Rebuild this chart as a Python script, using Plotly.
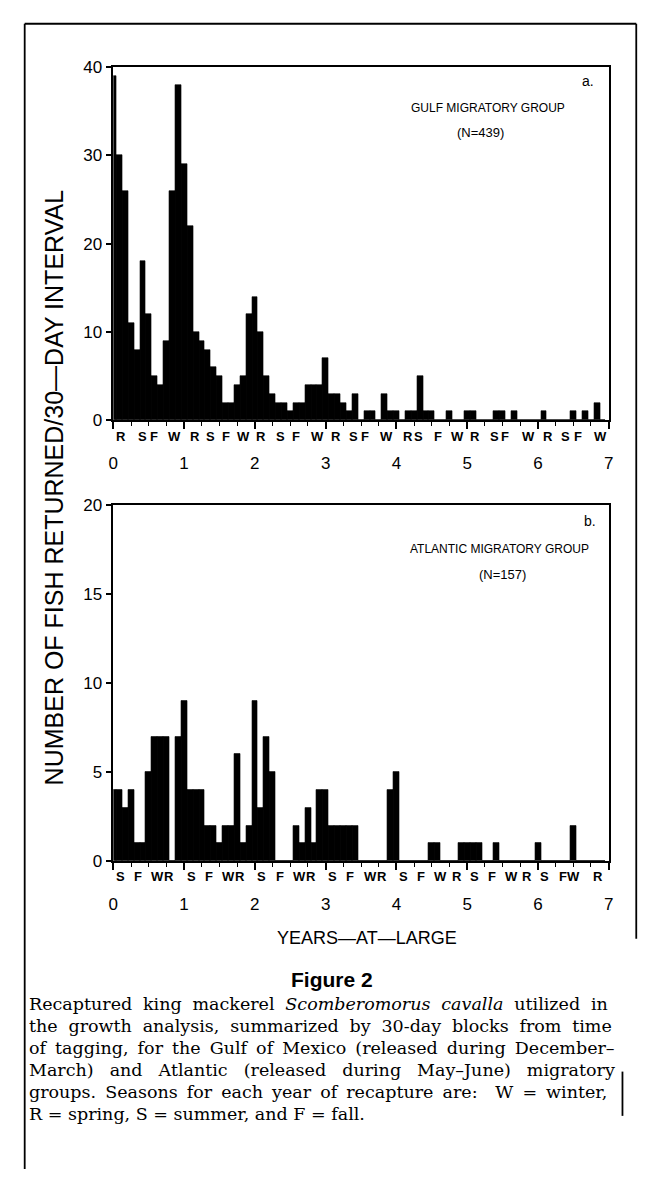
import plotly.graph_objects as go

# ---------------- data ----------------
BLOCK_YEARS = 1 / 12  # one 30-day block on the years axis

# Gulf migratory group (N=439): fish returned per 30-day block, block 0 at 0 years
gulf_counts = [39, 30, 26, 11, 8, 18, 12, 5, 4, 9,
               26, 38, 29, 22, 10, 9, 8, 6, 5, 2,
               2, 4, 5, 12, 14, 10, 5, 3, 2, 2,
               1, 2, 2, 4, 4, 4, 7, 3, 3, 2,
               1, 3, 0, 1, 1, 0, 3, 1, 1, 0,
               1, 1, 5, 1, 1, 0, 0, 1, 0, 0,
               1, 1, 0, 0, 0, 1, 1, 0, 1, 0,
               0, 0, 0, 1, 0, 0, 0, 0, 1, 0,
               1, 0, 2, 0]

# Atlantic migratory group (N=157)
atl_counts = [4, 4, 3, 4, 1, 1, 5, 7, 7, 7,
              0, 7, 9, 4, 4, 4, 2, 2, 1, 2,
              2, 6, 1, 2, 9, 3, 7, 5, 0, 0,
              0, 2, 1, 3, 1, 4, 4, 2, 2, 2,
              2, 2, 0, 0, 0, 0, 0, 4, 5, 0,
              0, 0, 0, 0, 1, 1, 0, 0, 0, 1,
              1, 1, 1, 0, 0, 1, 0, 0, 0, 0,
              0, 0, 1, 0, 0, 0, 0, 0, 2, 0,
              0, 0, 0, 0]

year_ticks = [0, 1, 2, 3, 4, 5, 6, 7]
gulf_yticks = [0, 10, 20, 30, 40]
atl_yticks = [0, 5, 10, 15, 20]

# season labels (W = winter, R = spring, S = summer, F = fall) and their positions in years
gulf_seasons = ["R", "S", "F", "W"] * 7
gulf_season_pos = [0.11, 0.41, 0.58, 0.86, 1.16, 1.37, 1.59, 1.84,
                   2.09, 2.36, 2.58, 2.88, 3.14, 3.40, 3.56, 3.86,
                   4.17, 4.31, 4.59, 4.86, 5.11, 5.39, 5.54, 5.86,
                   6.14, 6.39, 6.57, 6.89]
atl_seasons = ["S", "F", "W", "R"] * 7
atl_season_pos = [0.10, 0.35, 0.63, 0.78, 1.10, 1.35, 1.63, 1.79,
                  2.10, 2.35, 2.63, 2.80, 3.10, 3.35, 3.63, 3.80,
                  4.10, 4.35, 4.63, 4.85, 5.10, 5.35, 5.63, 5.85,
                  6.10, 6.35, 6.50, 6.85]

caption_lines = [
    "Recaptured king mackerel <i>Scomberomorus cavalla</i> utilized in",
    "the growth analysis, summarized by 30-day blocks from time",
    "of tagging, for the Gulf of Mexico (released during December\u2013",
    "March) and Atlantic (released during May\u2013June) migratory",
    "groups. Seasons for each year of recapture are: \u2002W = winter,",
    "R = spring, S = summer, and F = fall.",
]
# extra hair spaces per word gap, to imitate the justified setting of the caption
caption_justify = [3, 3, 2, 6, 2, 0]

# ---------------- figure ----------------
W, H = 658, 1179


def fx(p):
    return p / W


def fy(p):
    return 1 - p / H


gulf_x = [k * BLOCK_YEARS for k in range(len(gulf_counts))]
atl_x = [k * BLOCK_YEARS for k in range(len(atl_counts))]

fig = go.Figure()
bar_style = dict(color="black", line=dict(color="black", width=0.6))
fig.add_trace(go.Bar(x=gulf_x, y=gulf_counts, width=BLOCK_YEARS, marker=bar_style,
                     xaxis="x", yaxis="y", showlegend=False, hoverinfo="x+y"))
fig.add_trace(go.Bar(x=atl_x, y=atl_counts, width=BLOCK_YEARS, marker=bar_style,
                     xaxis="x2", yaxis="y2", showlegend=False, hoverinfo="x+y"))

FONT = "Liberation Sans"
quarters = [q / 4 for q in range(0, 29)]


def xaxis_cfg(anchor):
    return dict(
        domain=[fx(110), fx(613)], range=[0, 7], anchor=anchor,
        showline=True, linecolor="black", linewidth=1.6, mirror=True,
        showgrid=False, zeroline=False,
        tickmode="array", tickvals=year_ticks, ticktext=[str(v) for v in year_ticks],
        ticks="outside", ticklen=7, tickwidth=1.6, tickcolor="black",
        tickfont=dict(family=FONT, size=17, color="black"),
        ticklabelstandoff=20,
        minor=dict(tickmode="array", tickvals=quarters, ticks="outside",
                   ticklen=4, tickwidth=1.4, tickcolor="black", showgrid=False),
        fixedrange=True,
    )


def yaxis_cfg(anchor, dom, rng, tv):
    return dict(
        domain=dom, range=rng, anchor=anchor,
        showline=True, linecolor="black", linewidth=1.6, mirror=True,
        showgrid=False, zeroline=False,
        tickmode="array", tickvals=tv, ticktext=[str(v) for v in tv],
        ticks="outside", ticklen=6, tickwidth=1.6, tickcolor="black",
        tickfont=dict(family=FONT, size=17, color="black"),
        fixedrange=True,
    )


fig.update_layout(
    width=W, height=H,
    margin=dict(l=0, r=0, t=0, b=0),
    paper_bgcolor="white", plot_bgcolor="white",
    barmode="overlay", bargap=0,
    showlegend=False,
    xaxis=xaxis_cfg("y"),
    yaxis=yaxis_cfg("x", [fy(418), fy(59)], [0, 40], gulf_yticks),
    xaxis2=xaxis_cfg("y2"),
    yaxis2=yaxis_cfg("x2", [fy(866), fy(504)], [0, 20], atl_yticks),
)

ann = []
for lab, pos in zip(gulf_seasons, gulf_season_pos):
    ann.append(dict(x=pos, y=fy(434), xref="x", yref="paper", text=f"<b>{lab}</b>",
                    showarrow=False, xanchor="center", yanchor="middle",
                    font=dict(family=FONT, size=13, color="black")))
for lab, pos in zip(atl_seasons, atl_season_pos):
    ann.append(dict(x=pos, y=fy(882), xref="x2", yref="paper", text=f"<b>{lab}</b>",
                    showarrow=False, xanchor="center", yanchor="middle",
                    font=dict(family=FONT, size=13, color="black")))


def text(x, y, s, size, xanchor="center", family=FONT, angle=0):
    ann.append(dict(x=fx(x), y=fy(y), xref="paper", yref="paper", text=s,
                    showarrow=False, xanchor=xanchor, yanchor="middle", textangle=angle,
                    font=dict(family=family, size=size, color="black")))


text(592, 73, "a.", 14)
text(490, 101, "GULF MIGRATORY GROUP", 12)
text(483, 126, "(N=439)", 13)
text(594, 520, "b.", 14)
text(502, 549, "ATLANTIC MIGRATORY GROUP", 12)
text(505, 575, "(N=157)", 13)
text(50, 486, "NUMBER OF FISH RETURNED/30\u2014DAY INTERVAL", 25, angle=-90)
text(368, 944, "YEARS\u2014AT\u2014LARGE", 18)
text(332, 986, "<b>Figure 2</b>", 21)
for i, (line, extra) in enumerate(zip(caption_lines, caption_justify)):
    spaced = (" " + "\u200a" * extra).join(line.split(" "))
    text(22, 1011 + i * 22.5, spaced, 17.5, xanchor="left", family="DejaVu Serif")

fig.update_layout(annotations=ann)

shapes = []
for (x0, y0, x1, y1) in [(20, 15, 641, 15), (20, 15, 20, 1179), (641, 15, 641, 945),
                         (627, 1080, 627, 1125)]:
    shapes.append(dict(type="line", xref="paper", yref="paper",
                       x0=fx(x0), y0=fy(y0), x1=fx(x1), y1=fy(y1),
                       line=dict(color="black", width=1.8)))
fig.update_layout(shapes=shapes)

fig.write_html("out.html", config={"displayModeBar": False},
               post_script="document.body.style.margin='0px';document.body.style.overflow='hidden';")
